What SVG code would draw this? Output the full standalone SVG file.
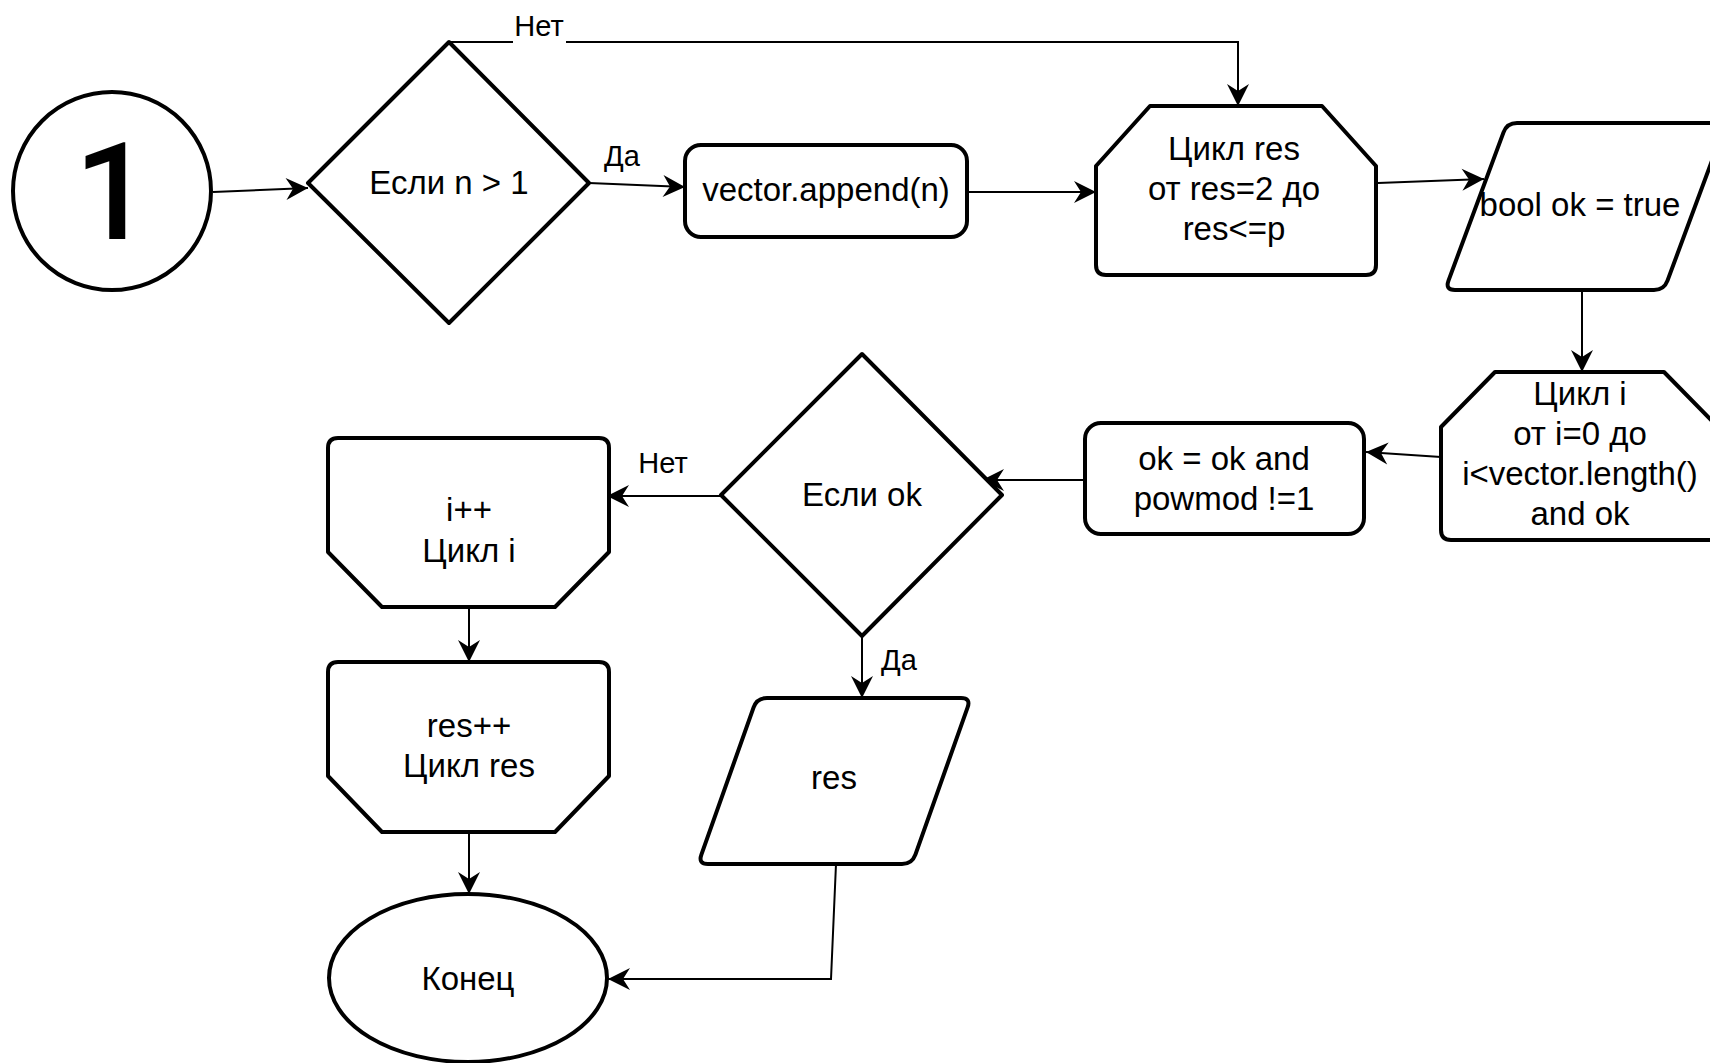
<svg xmlns="http://www.w3.org/2000/svg" width="1710" height="1063" viewBox="0 0 1710 1063">
<style>
.node{fill:#fff;stroke:#000;stroke-width:4;stroke-linejoin:round}
.edge{fill:none;stroke:#000;stroke-width:2;marker-end:url(#arrow)}
.t{font-family:"Liberation Sans",Arial,sans-serif;font-size:33px;text-anchor:middle;fill:#000}
.lbl{font-size:29px}
.big{font-family:Roboto,"Liberation Sans",sans-serif;font-size:136px;font-weight:500}
</style>
<defs>
<marker id="arrow" markerUnits="userSpaceOnUse" viewBox="-24 -13 26 26" refX="0" refY="0" markerWidth="26" markerHeight="26" orient="auto">
<path d="M0,0 L-22,-11 L-15,0 L-22,11 Z" fill="#000"/>
</marker>
</defs>
<rect width="1710" height="1063" fill="#fff"/>
<g id="connectors">
<path class="edge" d="M213,192 L308,188"/>
<path class="edge" d="M589,183 L685,187"/>
<path class="edge" d="M967,192 L1096,192"/>
<path class="edge" d="M449,42 L1238,42 L1238,106"/>
<path class="edge" d="M1378,183 L1484,179"/>
<path class="edge" d="M1582,290 L1582,372"/>
<path class="edge" d="M1441,457 L1366,452"/>
<path class="edge" d="M1085,480 L982,480"/>
<path class="edge" d="M721,496 L607,496"/>
<path class="edge" d="M469,607 L469,662"/>
<path class="edge" d="M469,832 L469,894"/>
<path class="edge" d="M862,636 L862,698"/>
<path class="edge" d="M836,864 L831,979 L608,979"/>
<rect x="513" y="12" width="53" height="33" fill="#fff"/>
<text class="t lbl" x="539" y="36">Нет</text>
<text class="t lbl" x="622" y="166">Да</text>
<text class="t lbl" x="663" y="473">Нет</text>
<text class="t lbl" x="899" y="670">Да</text>
</g>
<g id="start">
<circle class="node" cx="112" cy="191" r="99"/>
<text class="t big" x="113" y="239">1</text>
</g>
<g id="if-n">
<polygon class="node" points="449,42 589,183 449,323 308,183"/>
<text class="t" x="449" y="194">Если n &gt; 1</text>
</g>
<g id="append">
<rect class="node" x="685" y="145" width="282" height="92" rx="16"/>
<text class="t" x="826" y="201">vector.append(n)</text>
</g>
<g id="loop-res">
<path class="node" d="M1096,166 L1150,106 L1322,106 L1376,166 L1376,265 Q1376,275 1366,275 L1106,275 Q1096,275 1096,265 Z"/>
<text class="t" x="1234" y="160">Цикл res</text>
<text class="t" x="1234" y="200">от res=2 до</text>
<text class="t" x="1234" y="240">res&lt;=p</text>
</g>
<g id="bool-ok">
<path class="node" d="M1517,123 L1716,123 Q1726,123 1722.5,132.4 L1667.5,280.6 Q1664,290 1654,290 L1455,290 Q1445,290 1448.5,280.6 L1503.5,132.4 Q1507,123 1517,123 Z"/>
<text class="t" x="1580" y="216">bool ok = true</text>
</g>
<g id="loop-i">
<path class="node" d="M1441,427 L1495,372 L1664,372 L1718,427 L1718,530 Q1718,540 1708,540 L1451,540 Q1441,540 1441,530 Z"/>
<text class="t" x="1580" y="405">Цикл i</text>
<text class="t" x="1580" y="445">от i=0 до</text>
<text class="t" x="1580" y="485">i&lt;vector.length()</text>
<text class="t" x="1580" y="525">and ok</text>
</g>
<g id="ok-assign">
<rect class="node" x="1085" y="423" width="279" height="111" rx="16"/>
<text class="t" x="1224" y="470">ok = ok and</text>
<text class="t" x="1224" y="510">powmod !=1</text>
</g>
<g id="if-ok">
<polygon class="node" points="862,354 1002,495 862,636 721,495"/>
<text class="t" x="862" y="506">Если ok</text>
</g>
<g id="end-i">
<path class="node" d="M328,448 Q328,438 338,438 L599,438 Q609,438 609,448 L609,552 L555,607 L382,607 L328,552 Z"/>
<text class="t" x="469" y="521">i++</text>
<text class="t" x="469" y="562">Цикл i</text>
</g>
<g id="end-res">
<path class="node" d="M328,672 Q328,662 338,662 L599,662 Q609,662 609,672 L609,776 L555,832 L382,832 L328,776 Z"/>
<text class="t" x="469" y="737">res++</text>
<text class="t" x="469" y="777">Цикл res</text>
</g>
<g id="out-res">
<path class="node" d="M767,698 L961,698 Q971,698 967.6,707.4 L915.4,854.6 Q912,864 902,864 L708,864 Q698,864 701.4,854.6 L753.6,707.4 Q757,698 767,698 Z"/>
<text class="t" x="834" y="789">res</text>
</g>
<g id="end">
<ellipse class="node" cx="468" cy="978" rx="139" ry="84"/>
<text class="t" x="468" y="990">Конец</text>
</g>
</svg>
